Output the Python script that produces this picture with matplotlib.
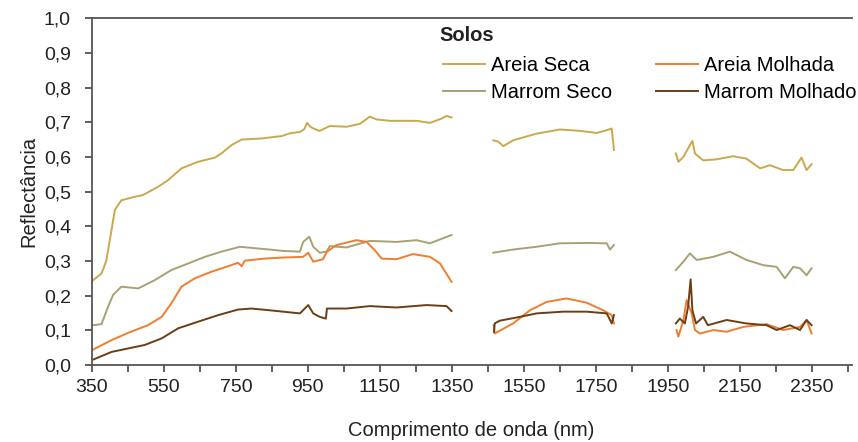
import numpy as np
import matplotlib
matplotlib.use("Agg")
import matplotlib.pyplot as plt
from matplotlib.ticker import FixedLocator, FuncFormatter, MultipleLocator

plt.rcParams['font.family'] = ['Liberation Sans', 'DejaVu Sans']

nan = np.nan

# Areia Seca
wl_as = [354, 377, 390, 400, 414, 432, 469, 492, 534, 562, 599, 645, 692, 710, 738, 766, 821, 844, 877,
         900, 928, 940, 948, 956, 965, 983, 1011, 1057, 1094, 1122, 1141, 1178, 1252, 1289, 1320, 1335, 1349,
         1400,
         1465, 1479, 1493, 1520, 1585, 1650, 1706, 1752, 1780, 1794, 1800,
         1900,
         1972, 1979, 1993, 2011, 2018, 2025, 2048, 2085, 2131, 2168, 2206, 2233, 2270, 2298, 2321, 2335, 2349]
r_as = [0.245, 0.264, 0.30, 0.36, 0.447, 0.475, 0.485, 0.49, 0.514, 0.533, 0.567, 0.586, 0.598, 0.61, 0.634, 0.65, 0.653, 0.656, 0.66,
        0.668, 0.672, 0.68, 0.698, 0.688, 0.682, 0.675, 0.689, 0.687, 0.695, 0.716, 0.708, 0.704, 0.704, 0.698, 0.710, 0.718, 0.714,
        nan,
        0.648, 0.644, 0.631, 0.648, 0.667, 0.679, 0.675, 0.669, 0.677, 0.682, 0.62,
        nan,
        0.61, 0.586, 0.60, 0.634, 0.646, 0.61, 0.59, 0.593, 0.602, 0.595, 0.567, 0.576, 0.562, 0.562, 0.598, 0.562, 0.579]

# Marrom Seco
wl_ms = [354, 377, 395, 409, 432, 479, 525, 571, 618, 664, 710, 761, 812, 844, 881,
         928, 937, 954, 965, 983, 1002, 1011, 1057, 1122, 1196, 1252, 1289, 1349,
         1400,
         1465, 1520, 1585, 1650, 1724, 1780, 1789, 1800,
         1900,
         1972, 1993, 2011, 2030, 2076, 2122, 2168, 2215, 2252, 2275, 2298, 2317, 2335, 2349]
r_ms = [0.115, 0.118, 0.168, 0.202, 0.226, 0.221, 0.245, 0.274, 0.293, 0.312, 0.327, 0.341, 0.336, 0.333, 0.329,
        0.327, 0.355, 0.37, 0.341, 0.324, 0.327, 0.343, 0.339, 0.358, 0.355, 0.36, 0.351, 0.375,
        nan,
        0.324, 0.333, 0.341, 0.351, 0.352, 0.351, 0.333, 0.346,
        nan,
        0.274, 0.298, 0.322, 0.303, 0.312, 0.327, 0.303, 0.288, 0.283, 0.25, 0.283, 0.279, 0.259, 0.279]

# Areia Molhada
wl_am = [354, 405, 451, 506, 544, 571, 599, 636, 682, 729, 756, 766, 775, 831, 881,
         937, 951, 965, 992, 1003, 1030, 1085, 1113, 1136, 1155, 1196, 1242, 1289, 1317, 1349,
         1400,
         1466, 1469, 1520, 1567, 1613, 1668, 1724, 1770, 1794, 1800,
         1900,
         1974, 1979, 1993, 2002, 2009, 2016, 2025, 2039, 2076, 2113, 2159, 2224, 2270, 2317, 2335, 2349]
r_am = [0.045, 0.072, 0.093, 0.115, 0.139, 0.178, 0.226, 0.25, 0.269, 0.285, 0.295, 0.285, 0.301, 0.307, 0.31,
        0.312, 0.324, 0.298, 0.305, 0.327, 0.346, 0.36, 0.355, 0.331, 0.307, 0.305, 0.32, 0.312, 0.293, 0.24,
        nan,
        0.115, 0.091, 0.12, 0.158, 0.182, 0.192, 0.18, 0.158, 0.144, 0.12,
        nan,
        0.101, 0.082, 0.13, 0.187, 0.168, 0.149, 0.101, 0.091, 0.101, 0.096, 0.11, 0.118, 0.101, 0.11, 0.13, 0.091]

# Marrom Molhado
wl_mm = [354, 405, 451, 497, 544, 590, 645, 701, 756, 793, 844, 881,
         928, 951, 965, 983, 1000, 1003, 1057, 1122, 1196, 1280, 1335, 1349,
         1400,
         1467, 1469, 1483, 1539, 1585, 1659, 1724, 1780, 1794, 1800,
         1900,
         1972, 1983, 1997, 2006, 2013, 2018, 2028, 2048, 2061, 2113, 2168, 2224, 2252, 2289, 2317, 2335, 2349]
r_mm = [0.016, 0.038, 0.048, 0.058, 0.077, 0.106, 0.125, 0.144, 0.16, 0.163, 0.158, 0.154,
        0.149, 0.173, 0.149, 0.139, 0.134, 0.163, 0.163, 0.17, 0.166, 0.173, 0.17, 0.156,
        nan,
        0.096, 0.12, 0.128, 0.139, 0.149, 0.154, 0.154, 0.149, 0.12, 0.144,
        nan,
        0.12, 0.134, 0.12, 0.168, 0.247, 0.158, 0.12, 0.139, 0.115, 0.13, 0.12, 0.115, 0.101, 0.115, 0.101, 0.13, 0.115]

x_ticks = [350, 550, 750, 950, 1150, 1350, 1550, 1750, 1950, 2150, 2350]
x_minor = [450, 650, 850, 1050, 1250, 1450, 1650, 1850, 2050, 2250, 2450]

series = [
    ("Areia Seca", wl_as, r_as, "#C9A94B"),
    ("Marrom Seco", wl_ms, r_ms, "#A9A173"),
    ("Areia Molhada", wl_am, r_am, "#F07D2C"),
    ("Marrom Molhado", wl_mm, r_mm, "#6B3E16"),
]

fig = plt.figure(figsize=(8.58, 4.42), dpi=100)
ax = fig.add_axes([0.107, 0.174, 0.8855, 0.785])

for name, x, y, c in series:
    ax.plot(x, y, color=c, lw=1.4, label=name)

ax.set_xlim(350, 2460)
ax.set_ylim(0, 1.0)
ax.xaxis.set_major_locator(FixedLocator(x_ticks))
ax.xaxis.set_minor_locator(FixedLocator(x_minor))
ax.yaxis.set_major_locator(MultipleLocator(0.1))
ax.yaxis.set_major_formatter(FuncFormatter(lambda v, p: ("%.1f" % v).replace(".", ",")))
ax.tick_params(axis="both", which="both", direction="out", length=5, width=1.2, color="#444444",
               labelsize=14, labelcolor="#222222")
ax.tick_params(axis="x", pad=5)
ax.tick_params(axis="y", pad=10)

for s in ["left", "bottom", "top"]:
    ax.spines[s].set_color("#555555")
    ax.spines[s].set_linewidth(1.3)
ax.spines["right"].set_visible(False)

ax.set_xlabel("Comprimento de onda (nm)", fontsize=14.5, color="#222222", labelpad=18)
ax.set_ylabel("Reflectância", fontsize=14.5, color="#222222", labelpad=4)

leg = ax.legend(ncol=2, loc="upper left", bbox_to_anchor=(0.462, 0.891),
                frameon=False, fontsize=14.5, handlelength=2.1, columnspacing=2.15,
                labelspacing=0.41, handletextpad=0.3, borderpad=0, borderaxespad=0)
ax.text(0.458, 0.951, "Solos", transform=ax.transAxes, fontsize=14.5, fontweight="bold",
        color="#222222", ha="left", va="center")

fig.savefig("out.png", dpi=100)
